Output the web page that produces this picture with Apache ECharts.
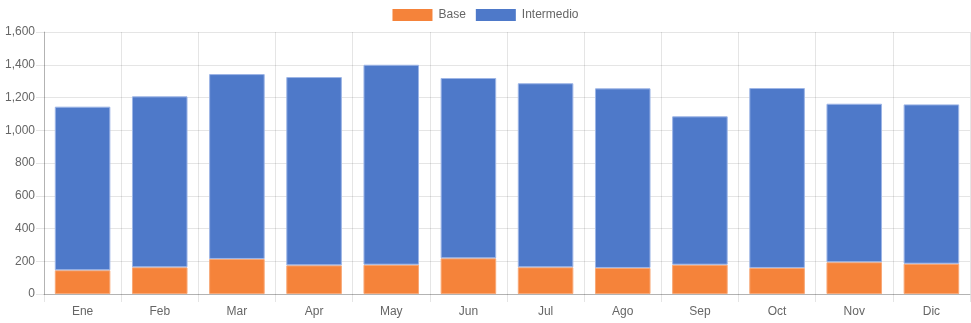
<!DOCTYPE html>
<html>
<head>
<meta charset="utf-8">
<script src="https://cdn.jsdelivr.net/npm/echarts@6/dist/echarts.min.js"></script>
<style>
  html, body { margin: 0; padding: 0; background: #fff; }
  #chart { width: 971px; height: 323px; }
</style>
</head>
<body>
<div id="chart"></div>
<script>
// Monthly totals split into two stacked levels
const months = ['Ene', 'Feb', 'Mar', 'Apr', 'May', 'Jun', 'Jul', 'Ago', 'Sep', 'Oct', 'Nov', 'Dic'];
const baseValues = [145, 163, 214, 175, 179, 218, 163, 159, 179, 159, 194, 185];
const intermedioValues = [999, 1044, 1129, 1150, 1221, 1101, 1124, 1097, 906, 1099, 968, 973];
const seriesNames = ['Base', 'Intermedio'];

const gridColor = 'rgba(0,0,0,0.1)';
const axisColor = 'rgba(0,0,0,0.22)';
const textColor = '#666';
const fontFamily = 'Arial, "Liberation Sans", Helvetica, sans-serif';

const chart = echarts.init(document.getElementById('chart'), null, { renderer: 'canvas' });

chart.setOption({
  animation: false,
  textStyle: { fontFamily: fontFamily },
  legend: {
    top: 4,
    left: 'center',
    itemWidth: 40,
    itemHeight: 12,
    itemGap: 10,
    icon: 'rect',
    itemStyle: { borderWidth: 0 },
    textStyle: { color: textColor, fontSize: 12, fontFamily: fontFamily, padding: [0, 0, 0, 1] },
    data: seriesNames
  },
  grid: { left: 44, right: 1, top: 32, bottom: 29, containLabel: false },
  xAxis: {
    type: 'category',
    data: months,
    boundaryGap: true,
    axisLine: { show: true, lineStyle: { color: axisColor, width: 1 } },
    axisTick: { show: true, length: 8, alignWithLabel: false, lineStyle: { color: gridColor } },
    splitLine: { show: true, lineStyle: { color: gridColor, width: 1 } },
    axisLabel: { color: textColor, fontSize: 12, margin: 12, fontFamily: fontFamily }
  },
  yAxis: {
    type: 'value',
    min: 0,
    max: 1600,
    interval: 200,
    axisLine: { show: true, lineStyle: { color: axisColor, width: 1 } },
    axisTick: { show: true, length: 8, lineStyle: { color: gridColor } },
    splitLine: { show: true, lineStyle: { color: gridColor, width: 1 } },
    axisLabel: {
      color: textColor,
      fontSize: 12,
      margin: 9,
      fontFamily: fontFamily,
      formatter: v => v.toLocaleString('en-US')
    }
  },
  series: [
    {
      name: seriesNames[0],
      type: 'bar',
      stack: 'total',
      data: baseValues,
      barWidth: '72%',
      itemStyle: { color: '#F5833A', borderColor: '#F8A877', borderWidth: 1 }
    },
    {
      name: seriesNames[1],
      type: 'bar',
      stack: 'total',
      data: intermedioValues,
      barWidth: '72%',
      itemStyle: { color: '#4E79C9', borderColor: '#9DB5E6', borderWidth: 1 }
    }
  ]
});
</script>
</body>
</html>
